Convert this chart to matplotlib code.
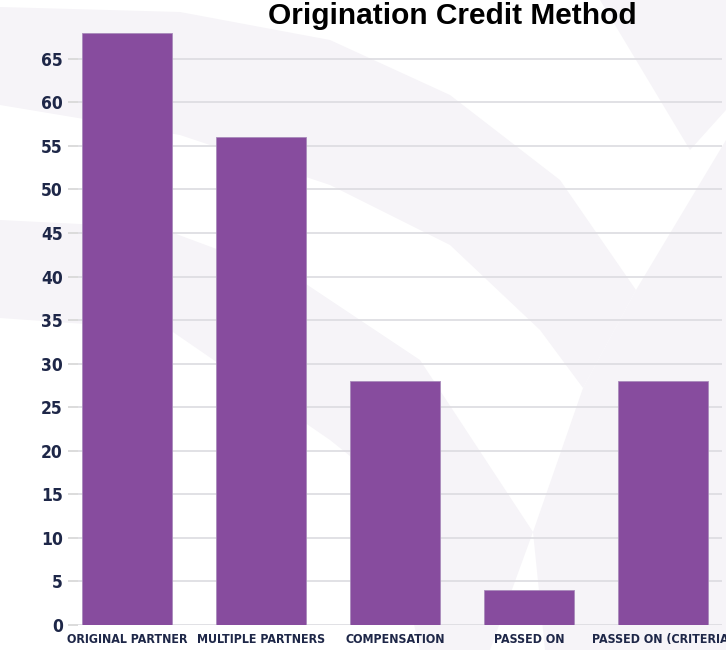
import matplotlib
matplotlib.use('Agg')
import matplotlib.pyplot as plt
from matplotlib.patches import Polygon

categories = ['ORIGINAL PARTNER', 'MULTIPLE PARTNERS', 'COMPENSATION',
              'PASSED ON', 'PASSED ON (CRITERIA)']
values = [68, 56, 28, 4, 28]
yticks = list(range(0, 70, 5))

barColor = '#874c9e'
tickColor = '#1e2748'
wmColor = '#f6f4f8'
narrow = ['DejaVu Sans']

fig = plt.figure(figsize=(7.26, 6.5), dpi=100)
fig.patch.set_facecolor('white')

# faint logo watermark behind the chart (pixel coords, y down)
bg = fig.add_axes([0, 0, 1, 1], zorder=0)
bg.set_xlim(0, 726)
bg.set_ylim(650, 0)
bg.axis('off')
shapes = [
    [(0, 7), (180, 12), (330, 40), (450, 95), (560, 180), (636, 290),
     (583, 388), (540, 330), (450, 245), (330, 185), (180, 135), (0, 105)],
    [(0, 220), (160, 228), (300, 280), (420, 360), (533, 532), (490, 650),
     (420, 650), (380, 480), (330, 440), (170, 330), (0, 318)],
    [(636, 290), (726, 140), (726, 650), (545, 650), (533, 532), (583, 388)],
    [(600, 0), (726, 0), (726, 110), (690, 150)],
]
for pts in shapes:
    bg.add_patch(Polygon(pts, closed=True, color=wmColor, lw=0))

ax = fig.add_axes([78/726, 25/650, 644/726, 595/650], zorder=1)
ax.patch.set_alpha(0)

x = list(range(len(categories)))
ax.bar(x, values, width=0.672, color=barColor, edgecolor='#a98bbb',
       linewidth=0.6, zorder=3)

ax.set_xlim(-0.366, 4.44)
ax.set_ylim(0, 68.3)
ax.set_yticks(yticks)
ax.set_xticks(x)
ax.set_xticklabels(categories)
ax.grid(axis='y', color='#dcdbe0', linewidth=1.2, zorder=0)
for s in ax.spines.values():
    s.set_visible(False)

ax.tick_params(axis='y', length=7, width=1.2, color='#d6d6d6', pad=4,
               labelcolor=tickColor)
ax.tick_params(axis='x', length=0, pad=6, labelcolor=tickColor)
for lbl in ax.get_yticklabels() + ax.get_xticklabels():
    lbl.set_fontfamily(narrow)
    lbl.set_fontweight('bold')
    lbl.set_fontstretch('condensed')
    lbl.set_fontsize(12.5)

# shrink the category labels so neighbours don't collide
fig.canvas.draw()
r = fig.canvas.get_renderer()
widest = max(l.get_window_extent(r).width for l in ax.get_xticklabels()[:4])
if widest > 128:
    for lbl in ax.get_xticklabels():
        lbl.set_fontsize(12.5 * 128 / widest)

fig.text(452/726, 1 - 16/650, 'Origination Credit Method', ha='center',
         va='center', fontsize=21.5, fontweight='bold', color='black',
         family=['Liberation Sans', 'DejaVu Sans'])

fig.savefig('out.png', dpi=100)
